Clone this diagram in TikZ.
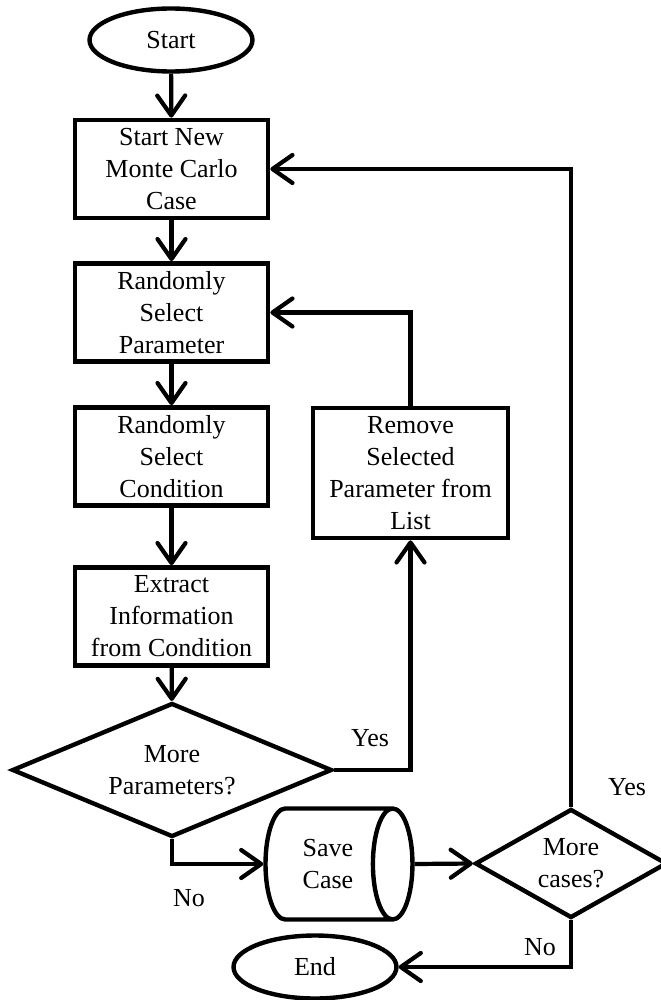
\documentclass[tikz,border=0pt]{standalone}
\usepackage{fontspec}
\setmainfont{Liberation Serif}
\usetikzlibrary{shapes.geometric,arrows.meta,positioning}

\begin{document}
\begin{tikzpicture}[x=0.02cm, y=-0.02cm, font=\fontsize{14.8}{18.2}\selectfont]
\tikzstyle{caixa}=[rectangle, draw, line width=2.7pt, align=center, inner sep=0pt, minimum width=3.86cm, minimum height=1.96cm]
\tikzstyle{terminal}=[ellipse, draw, line width=2.5pt, minimum width=3.26cm, minimum height=1.26cm]
\tikzstyle{decisao}=[diamond, draw, line width=2.5pt, align=center, inner sep=0pt]
\tikzstyle{seta}=[line width=2.4pt, -{Straight Barb[length=4mm,width=5.6mm,round]}]
\useasboundingbox (0,0) rectangle (660,1000);
 \node[terminal] (inicio) at (171,40) {Start};
 \node[caixa] (novo) at (171.5,169) {Start New\\Monte Carlo\\Case};
 \node[caixa] (param) at (171.5,312.5) {Randomly\\Select\\Parameter};
 \node[caixa] (cond) at (171.5,456.5) {Randomly\\Select\\Condition};
 \node[caixa] (extrai) at (171.5,616.5) {Extract\\Information\\from Condition};
 \node[caixa, minimum width=3.9cm, minimum height=2.6cm] (remove) at (410.5,473) {Remove\\Selected\\Parameter from\\List};
 \node[decisao, minimum width=6.4cm, minimum height=2.68cm, aspect=2.4] (maispar) at (172,770) {More\\Parameters?};
 \node[cylinder, draw, line width=2.5pt, align=center, aspect=0.8, minimum width=2.22cm, minimum height=2.94cm, inner sep=0pt] (salva) at (328,864) {Save\\Case};
 \node[decisao, minimum width=3.84cm, minimum height=2.18cm, aspect=1.76] (maiscasos) at (571,863.5) {More\\cases?};
 \node[terminal] (fim) at (315,967) {End};
 % rotulos
 \node (sim1) at (370,738) {Yes};
 \node (nao1) at (189,898) {No};
 \node (sim2) at (627,787) {Yes};
 \node (nao2) at (540,947) {No};
 % ligacoes
 \draw[seta] (inicio) -- (novo);
 \draw[seta] (novo) -- (param);
 \draw[seta] (param) -- (cond);
 \draw[seta] (cond) -- (extrai);
 \draw[seta] (extrai) -- (maispar);
 \draw[seta] (maispar.east) -| (remove.south);
 \draw[seta] (remove.north) |- (param.east);
 \draw[seta] (maispar.south) |- (salva.west);
 \draw[seta] (salva.east) -- (maiscasos.west);
 \draw[seta] (maiscasos.north) |- (novo.east);
 \draw[seta] (maiscasos.south) |- (fim.east);
\end{tikzpicture}
\end{document}
